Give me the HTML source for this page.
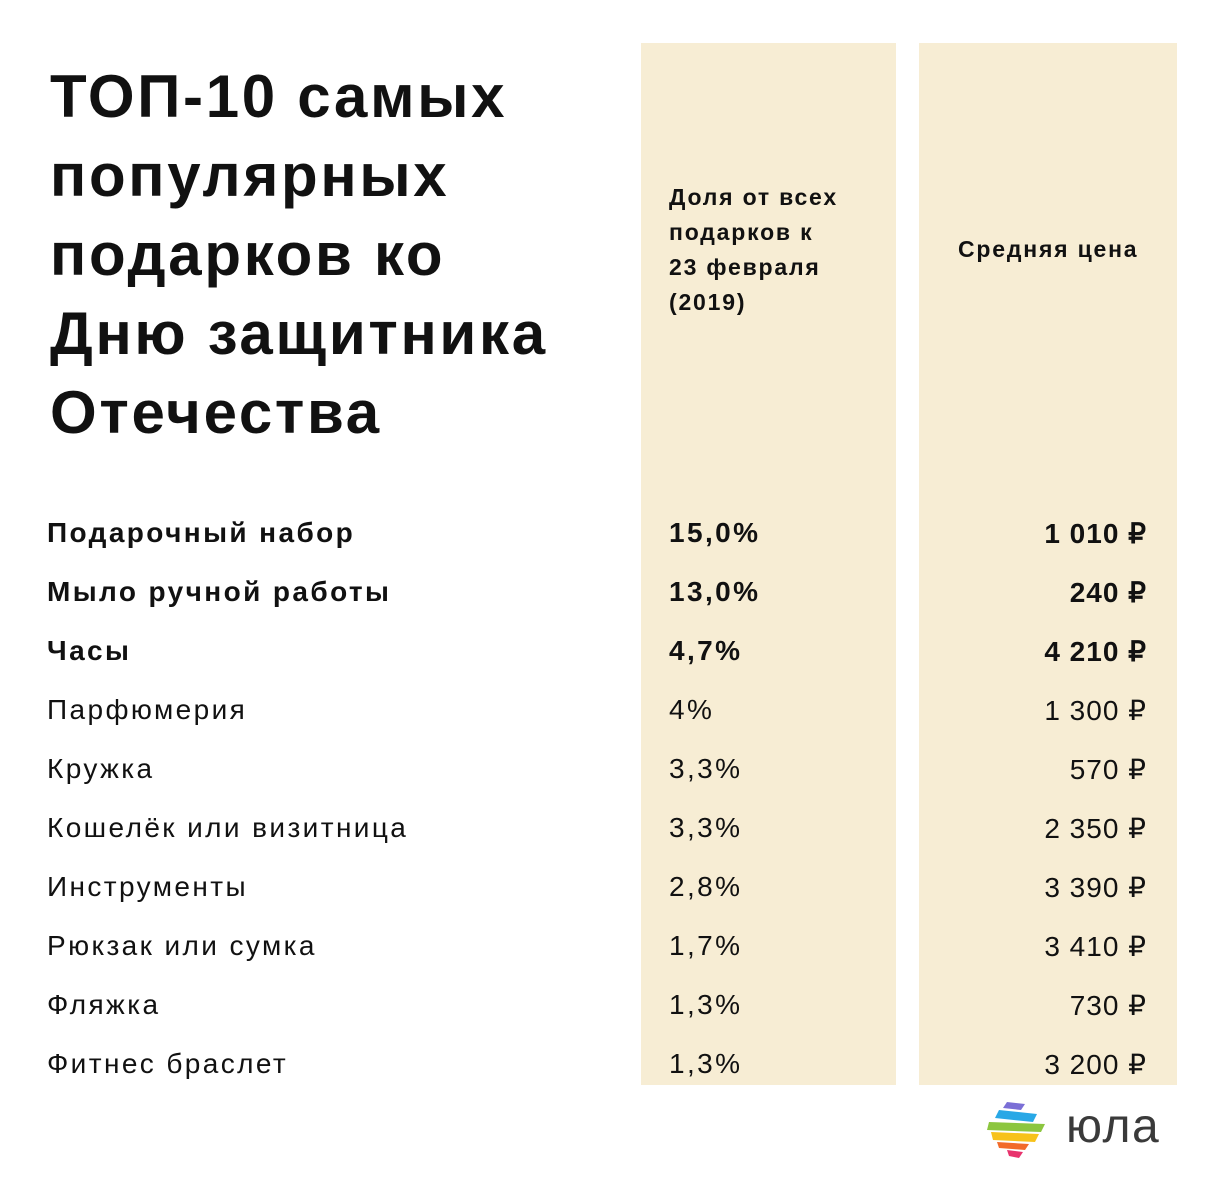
<!DOCTYPE html>
<html><head><meta charset="utf-8"><style>
body{margin:0;width:1217px;height:1200px;background:#fff;position:relative;overflow:hidden;font-family:"Liberation Sans",Arial,sans-serif;color:#111}
.col{position:absolute;top:43px;height:1042px;background:#f7edd4}
.t{position:absolute;white-space:nowrap}
h1{position:absolute;left:50px;top:57px;margin:0;font-size:60px;line-height:79px;font-weight:bold;letter-spacing:2.7px}
.hd{font-weight:bold;font-size:23px;line-height:35px;position:absolute;letter-spacing:1.8px}
.r{font-size:28px;letter-spacing:2.4px}
.b{font-weight:bold}
</style></head><body>
<div class="col" style="left:641px;width:255px"></div>
<div class="col" style="left:919px;width:258px"></div>
<h1>ТОП-10 самых<br>популярных<br>подарков ко<br>Дню защитника<br>Отечества</h1>
<div class="hd" style="left:669px;top:180px">Доля от всех<br>подарков к<br>23 февраля<br>(2019)</div>
<div class="hd" style="left:958px;top:232px">Средняя цена</div>
<div id="rows"></div>
<svg style="position:absolute;left:985px;top:1098px" width="68" height="62" viewBox="0 0 68 62">
<polygon points="22,4 40,6 36,12 18,10" fill="#7b6fd6"/>
<polygon points="14,12 52,16 48,24 10,20" fill="#29a8e6"/>
<polygon points="4,24 60,26 56,34 2,32" fill="#8cc63f"/>
<polygon points="6,34 54,36 50,44 8,42" fill="#f7c21b"/>
<polygon points="12,44 44,46 40,52 14,50" fill="#f26b2a"/>
<polygon points="22,52 38,54 34,60 24,58" fill="#e8336d"/>
</svg>
<div class="t" style="left:1066px;top:1099px;font-size:48px;color:#3a3a3a;letter-spacing:1.5px">юла</div>
<script>
const names=["Подарочный набор","Мыло ручной работы","Часы","Парфюмерия","Кружка","Кошелёк или визитница","Инструменты","Рюкзак или сумка","Фляжка","Фитнес браслет"];
const shares=["15,0%","13,0%","4,7%","4%","3,3%","3,3%","2,8%","1,7%","1,3%","1,3%"];
const prices=["1 010 ₽","240 ₽","4 210 ₽","1 300 ₽","570 ₽","2 350 ₽","3 390 ₽","3 410 ₽","730 ₽","3 200 ₽"];
const bold=[true,true,true,false,false,false,false,false,false,false];
const c=document.getElementById('rows');
names.forEach((n,i)=>{
  const top=517+i*59;
  const mk=(txt,style,name)=>{const d=document.createElement('div');d.className='t r'+(bold[i]?' b':'');d.textContent=txt;d.style.cssText=style+'top:'+top+'px;';
  
  
  c.appendChild(d);};
  mk(n,'left:47px;','row-name');
  mk(shares[i],'left:669px;','row-share');
  mk(prices[i],'right:70px;letter-spacing:1px;','row-price');
});
</script>
</body></html>
